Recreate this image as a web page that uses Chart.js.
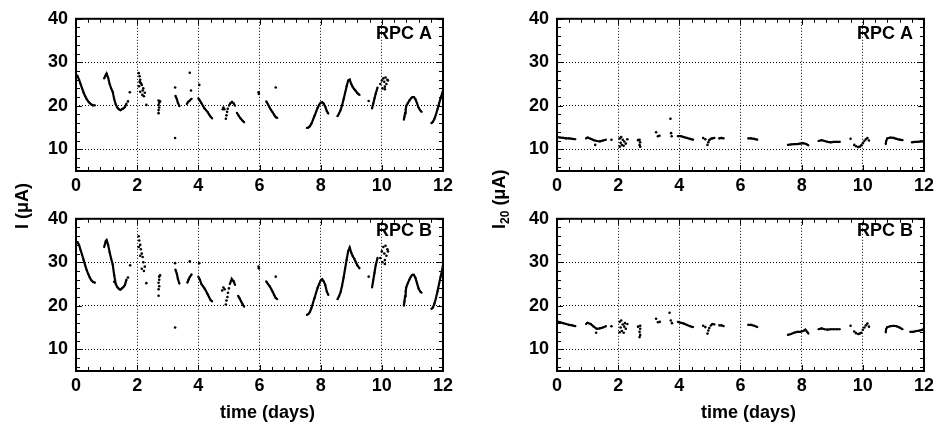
<!DOCTYPE html>
<html>
<head>
<meta charset="utf-8">
<script src="https://cdn.jsdelivr.net/npm/chart.js@4.4.0/dist/chart.umd.min.js"></script>
<style>
  body { margin: 0; background: #fff; }
  #wrap { position: relative; width: 938px; height: 428px; overflow: hidden; }
  canvas { position: absolute; }
  .ytitle {
    position: absolute; font: bold 18px "Liberation Sans", Arial, sans-serif; line-height: 18px;
    transform-origin: left top; transform: rotate(-90deg); white-space: nowrap; color: #000;
  }
  .ytitle sub { font-size: 12px; vertical-align: -4px; }
</style>
</head>
<body>
<div id="wrap">
  <canvas id="tl" width="469" height="200" style="left:0;top:0"></canvas>
  <canvas id="bl" width="469" height="228" style="left:0;top:200px"></canvas>
  <canvas id="tr" width="469" height="200" style="left:469px;top:0"></canvas>
  <canvas id="br" width="469" height="228" style="left:469px;top:200px"></canvas>
  <div class="ytitle" style="left:13px;top:229px">I (μA)</div>
  <div class="ytitle" style="left:490px;top:229px">I<sub>20</sub> (μA)</div>
</div>
<script>
const xTicks = [0, 2, 4, 6, 8, 10, 12];
const yTicks = [10, 20, 30, 40];

// RPC A, current I
const iA_lines = [
  [[0,27.2],[0.05,26.8],[0.1,26],[0.15,25],[0.2,24],[0.25,23],[0.3,22.2],[0.35,21.5],[0.4,21],[0.45,20.6],[0.5,20.3],[0.55,20.1],[0.62,20.1]],
  [[0.92,26.3],[0.97,27],[1.0,27.4],[1.05,26.5],[1.1,25],[1.15,24],[1.2,23.2],[1.25,21.5],[1.3,20.3],[1.35,19.6],[1.4,19.2],[1.45,19],[1.5,19.2],[1.55,19.4],[1.6,19.7],[1.65,20.5]],
  [[3.25,22.3],[3.3,21.5],[3.33,20.7],[3.38,19.9]],
  [[3.62,20.4],[3.67,20.9],[3.72,21.2],[3.78,21.6]],
  [[4.0,21.7],[4.05,21.2],[4.1,20.6],[4.15,20],[4.2,19.4],[4.25,19],[4.3,18.6],[4.35,18],[4.4,17.5],[4.45,17.1]],
  [[5.0,20],[5.05,20.6],[5.1,20.9],[5.15,20.6],[5.2,20]],
  [[5.26,18.4],[5.32,17.7],[5.38,17.1],[5.44,16.6],[5.5,16.2]],
  [[6.22,21],[6.28,20.3],[6.33,19.6],[6.38,19],[6.43,18.5],[6.48,17.9],[6.53,17.4],[6.58,17.2]],
  [[7.55,14.9],[7.6,15],[7.65,15.3],[7.7,15.9],[7.75,16.8],[7.8,17.7],[7.85,18.6],[7.9,19.5],[7.95,20.2],[8.0,20.7],[8.05,20.8],[8.1,20.5],[8.15,19.8],[8.2,18.8],[8.25,18.2]],
  [[8.55,17.6],[8.6,18.2],[8.65,19],[8.7,20.1],[8.75,21.5],[8.8,23],[8.85,24.5],[8.9,25.8],[8.95,26],[9.0,25],[9.05,24.3],[9.1,23.8],[9.15,23.4],[9.2,22.9],[9.27,22.5]],
  [[9.68,19.4],[9.72,20.5],[9.76,21.7],[9.8,22.8],[9.86,24.2]],
  [[10.72,16.8],[10.74,17.5],[10.76,18.3],[10.78,19.2],[10.8,20],[10.85,20.6],[10.9,21.2],[10.95,21.7],[11.0,22],[11.05,22],[11.1,21.5],[11.15,20.6],[11.2,19.6],[11.25,19],[11.3,18.6]],
  [[11.62,16],[11.67,16.3],[11.72,17],[11.77,18],[11.82,19.2],[11.87,20.5],[11.92,21.7],[11.97,22.8],[12,23.5]]
];
const iA_dots = [[1.7,21],[1.76,23.1],[2.05,27.5],[2.08,26.8],[2.1,26],[2.12,25.2],[2.06,24.5],[2.15,24.8],[2.18,23.5],[2.2,24],
  [2.1,23.2],[2.22,22.2],[2.17,22.5],[2.25,23],[2.08,25.5],[2.3,20.2],[2.7,21.2],[2.72,20.7],[2.7,20.2],[2.72,19.6],[2.7,19],
  [2.7,18.3],[2.75,21],[3.24,12.6],[3.24,24.2],[3.72,27.6],[3.76,23.5],[4.03,24.8],[4.8,19.2],[4.82,19.6],[4.85,19.2],[4.9,17],
  [4.92,17.8],[4.94,18.6],[4.96,19.3],[5.97,23.1],[5.98,22.7],[6.53,24.2],[9.57,21.1],[9.95,25],[10.0,25.8],[10.05,26.3],
  [10.08,25.5],[10.1,24.4],[10.12,26.5],[10.15,25],[10.18,26],[10.02,24],[10.1,23.8],[10.2,25.8]];

// RPC B, current I
const iB_lines = [
  [[0,34.7],[0.05,34.6],[0.1,34],[0.15,32.8],[0.2,31.7],[0.25,30.5],[0.3,29.3],[0.35,28.2],[0.4,27.3],[0.45,26.5],[0.5,25.9],[0.55,25.5],[0.62,25.3]],
  [[0.92,33.5],[0.97,34.8],[1.0,35.1],[1.05,34],[1.1,32.3],[1.15,30.8],[1.2,29.5],[1.25,27],[1.3,25],[1.35,24.3],[1.4,23.9],[1.45,23.7],[1.5,24],[1.55,24.3],[1.6,24.8],[1.65,26]],
  [[3.25,28.3],[3.3,27.3],[3.33,26.2],[3.38,25.1]],
  [[3.64,25.3],[3.68,26],[3.72,26.6],[3.78,27.2]],
  [[4.0,26.7],[4.05,26],[4.1,25],[4.15,24.5],[4.2,24],[4.25,23.4],[4.3,22.7],[4.35,22],[4.4,21.3],[4.45,21]],
  [[5.03,25],[5.07,25.8],[5.1,26.1],[5.15,25.7],[5.2,24.8]],
  [[5.3,22.3],[5.35,21.7],[5.4,21],[5.45,20.3],[5.5,19.8]],
  [[6.22,25.6],[6.28,25],[6.33,24.5],[6.38,23.9],[6.43,23.2],[6.48,22.5],[6.53,21.8],[6.58,21.5]],
  [[7.55,17.9],[7.6,18.1],[7.65,18.6],[7.7,19.5],[7.75,20.7],[7.8,21.8],[7.85,23],[7.9,24.1],[7.95,25],[8.0,25.8],[8.05,26.1],[8.1,25.6],[8.15,24.8],[8.2,23.3],[8.25,22.5]],
  [[8.55,21.5],[8.6,22.2],[8.65,23.1],[8.7,24.6],[8.75,26.5],[8.8,28.6],[8.85,30.6],[8.9,32.6],[8.95,33.4],[9.0,32.2],[9.05,31.4],[9.1,30.8],[9.15,30],[9.2,29.3],[9.27,28.6]],
  [[9.68,24.2],[9.72,25.9],[9.76,27.6],[9.8,29.3],[9.86,31]],
  [[10.72,20],[10.74,21],[10.76,22.2],[10.78,23.3],[10.8,24.3],[10.85,25.2],[10.9,26],[10.95,26.7],[11.0,27.1],[11.05,27.1],[11.1,26.4],[11.15,25.2],[11.2,24],[11.25,23.3],[11.3,23]],
  [[11.62,19.3],[11.67,19.6],[11.72,20.5],[11.77,21.8],[11.82,23.3],[11.87,25],[11.92,26.6],[11.97,28.2],[12,29.3]]
];
const iB_dots = [[1.25,25.5],[1.7,26.5],[1.77,29.3],[2.05,36],[2.07,35],[2.1,34],[2.05,33.5],[2.12,33],[2.15,32],[2.1,31.5],
  [2.18,31.2],[2.2,30],[2.15,28.5],[2.22,28],[2.25,29],[2.3,25.2],[2.72,26.7],[2.72,26],[2.7,25.3],[2.72,24.5],[2.7,23.8],
  [2.7,22.3],[2.75,27],[3.24,15],[3.24,29.8],[3.72,30.2],[4.03,29.8],[4.78,23.5],[4.82,24.2],[4.86,23.8],[4.9,20.3],[4.92,21.2],
  [4.95,22],[4.97,23],[5.0,24],[5.97,29],[5.98,28.6],[6.53,26.7],[9.57,26.7],[9.95,31],[10.0,32.5],[10.05,33.5],[10.08,32],
  [10.1,30.5],[10.12,33.8],[10.15,31.5],[10.18,33],[10.02,30],[10.1,29.6],[10.2,32.5]];

// RPC A, I20
const i20A_lines = [
  [[0,12.8],[0.1,12.7],[0.2,12.6],[0.3,12.5],[0.4,12.5],[0.5,12.4],[0.6,12.3]],
  [[0.95,12.5],[1.0,12.7],[1.1,12.4],[1.2,12.1],[1.3,11.9],[1.4,11.8],[1.5,12],[1.6,12.2]],
  [[3.95,13],[4.05,13],[4.15,12.8],[4.25,12.6],[4.35,12.4],[4.45,12.2]],
  [[5.02,12.4],[5.08,12.5],[5.15,12.6]],
  [[5.3,12.5],[5.38,12.6],[5.45,12.5]],
  [[6.25,12.5],[6.35,12.5],[6.45,12.4],[6.55,12.2]],
  [[7.55,11],[7.65,11.1],[7.75,11.2],[7.85,11.2],[7.95,11.3],[8.05,11.4],[8.15,11.2],[8.22,10.9]],
  [[8.55,11.9],[8.65,12.1],[8.75,11.9],[8.85,11.7],[8.95,11.6],[9.05,11.7],[9.15,11.7],[9.25,11.7]],
  [[10.75,11.2],[10.76,11.8],[10.8,12.5],[10.9,12.7],[11.0,12.6],[11.1,12.4],[11.2,12.2],[11.3,12.1]],
  [[11.6,11.6],[11.7,11.7],[11.8,11.7],[11.9,11.8],[12,11.8]]
];
const i20A_dots = [[1.25,11],[1.78,12.2],[2.05,12.5],[2.08,11.5],[2.1,12.8],[2.12,11],[2.15,12.2],[2.18,10.8],[2.2,11.8],
  [2.05,10.6],[2.25,11.3],[2.3,12.3],[2.65,12.1],[2.7,12.2],[2.72,11.6],[2.7,11],[2.72,10.6],[3.24,13.9],[3.3,13],[3.35,13.1],
  [3.71,17],[3.73,13.7],[3.75,13],[4.78,12.6],[4.85,12.3],[4.92,11],[4.95,11.6],[4.98,12.1],[9.6,12.4],[9.72,11],[9.78,10.7],
  [9.85,10.5],[9.9,10.6],[9.95,10.9],[10.0,11.4],[10.05,11.9],[10.1,12.3],[10.15,12.6],[10.2,12]];

// RPC B, I20
const i20B_lines = [
  [[0,16.4],[0.1,16.2],[0.2,16],[0.3,15.8],[0.4,15.6],[0.5,15.5],[0.6,15.3]],
  [[0.95,15.8],[1.0,16.1],[1.1,15.8],[1.2,15.2],[1.3,14.7],[1.4,14.8],[1.5,15],[1.6,15.3]],
  [[3.95,16.3],[4.05,16.1],[4.15,15.9],[4.25,15.6],[4.35,15.3],[4.45,15.1]],
  [[5.02,15.4],[5.08,15.8],[5.15,15.7]],
  [[5.3,15.5],[5.38,15.5],[5.45,15.3]],
  [[6.25,15.6],[6.35,15.6],[6.45,15.4],[6.55,15.1]],
  [[7.55,13.3],[7.65,13.5],[7.75,13.8],[7.85,14],[7.95,14],[8.05,14.2],[8.12,14.5],[8.18,14],[8.22,13.6]],
  [[8.55,14.6],[8.65,14.8],[8.75,14.6],[8.85,14.5],[8.95,14.6],[9.05,14.6],[9.15,14.6],[9.25,14.6]],
  [[10.75,13.9],[10.76,14.6],[10.8,15.1],[10.9,15.3],[11.0,15.4],[11.1,15.3],[11.2,15],[11.3,14.6]],
  [[11.55,14],[11.65,14],[11.75,14.2],[11.85,14.3],[11.95,14.5],[12,14.6]]
];
const i20B_dots = [[1.28,13.8],[1.78,15.3],[2.05,16.3],[2.08,15],[2.1,16.6],[2.12,14.2],[2.15,15.7],[2.18,13.8],[2.2,15.2],
  [2.05,13.9],[2.25,14.7],[2.3,15.8],[2.22,16],[2.65,15.2],[2.72,15.4],[2.72,14.7],[2.7,14],[2.72,13.3],[2.7,12.8],[3.24,17],
  [3.3,16.2],[3.36,16.3],[3.68,18.4],[3.72,16.6],[3.76,16],[4.78,15.4],[4.85,15.1],[4.92,13.6],[4.95,14.3],[4.98,14.9],
  [9.6,15.4],[9.72,14.1],[9.78,13.7],[9.85,13.5],[9.9,13.6],[9.95,13.8],[10.0,14.5],[10.05,15],[10.1,15.5],[10.15,15.9],[10.2,15.2]];

function toLineData(segs) {
  let out = [];
  segs.forEach((seg, i) => {
    if (i > 0) out.push({ x: seg[0][0] - 0.01, y: null });
    seg.forEach((p) => out.push({ x: p[0], y: p[1] }));
  });
  return out;
}

function toDots(list) {
  return list.map((p) => ({ x: p[0], y: p[1] }));
}

// frame, inner ticks, panel label and x title
const framePlugin = {
  id: "frame",
  afterDatasetsDraw(chart, args, opts) {
    const { ctx, chartArea: a, scales } = chart;
    const x = scales.x, y = scales.y;
    ctx.save();
    ctx.strokeStyle = "#000";
    ctx.lineWidth = 1;
    ctx.beginPath();
    for (let i = 0; i <= 30; i++) {
      const px = Math.round(x.getPixelForValue(i * 0.4)) + 0.5;
      const len = i % 5 === 0 ? 6 : 4;
      ctx.moveTo(px, a.bottom); ctx.lineTo(px, a.bottom - len);
      ctx.moveTo(px, a.top); ctx.lineTo(px, a.top + len);
    }
    for (let v = 6; v <= 40; v += 2) {
      const py = Math.round(y.getPixelForValue(v)) + 0.5;
      const len = v % 10 === 0 ? 6 : 4;
      ctx.moveTo(a.left, py); ctx.lineTo(a.left + len, py);
      ctx.moveTo(a.right, py); ctx.lineTo(a.right - len, py);
    }
    ctx.stroke();
    ctx.lineWidth = 2;
    ctx.strokeRect(a.left, a.top, a.right - a.left, a.bottom - a.top);
    ctx.fillStyle = "#000";
    ctx.font = 'bold 18px "Liberation Sans", Arial, sans-serif';
    ctx.textAlign = "right";
    ctx.textBaseline = "alphabetic";
    ctx.fillText(opts.label, a.right - 11, a.top + opts.labelDy);
    if (opts.xTitle) {
      ctx.textAlign = "center";
      ctx.fillText(opts.xTitle, (a.left + a.right) / 2 + 8, a.bottom + 47);
    }
    ctx.restore();
  },
};

function makePanel(id, lines, dots, label, p) {
  const font = { family: '"Liberation Sans", Arial, sans-serif', size: 18, weight: "bold" };
  return new Chart(document.getElementById(id), {
    type: "scatter",
    data: {
      datasets: [
        {
          data: toLineData(lines),
          showLine: true,
          spanGaps: false,
          borderColor: "#000",
          backgroundColor: "#000",
          borderWidth: 2.2,
          pointRadius: 1.1,
          pointBorderWidth: 0,
        },
        {
          data: toDots(dots),
          showLine: false,
          backgroundColor: "#000",
          borderColor: "#000",
          pointRadius: 1.3,
          pointBorderWidth: 0,
        },
      ],
    },
    options: {
      responsive: false,
      animation: false,
      events: [],
      layout: { padding: { left: 0, top: p.top, right: p.right, bottom: 0 } },
      plugins: {
        legend: { display: false },
        tooltip: { enabled: false },
        frame: { label: label, labelDy: p.labelDy, xTitle: p.xTitle },
      },
      scales: {
        x: {
          type: "linear",
          min: 0,
          max: 12,
          afterBuildTicks: (s) => { s.ticks = xTicks.map((v) => ({ value: v })); },
          afterFit: (s) => { s.height = p.xh; },
          ticks: { color: "#000", font: font, padding: 4, maxRotation: 0 },
          grid: { color: "#000", lineWidth: 1, drawTicks: false },
          border: { display: false, dash: [1, 2] },
        },
        y: {
          type: "linear",
          min: 5,
          max: 40,
          afterBuildTicks: (s) => { s.ticks = yTicks.map((v) => ({ value: v })); },
          afterFit: (s) => { s.width = p.yw; },
          ticks: { color: "#000", font: font, padding: 8 },
          grid: { color: "#000", lineWidth: 1, drawTicks: false },
          border: { display: false, dash: [1, 2] },
        },
      },
    },
    plugins: [framePlugin],
  });
}

makePanel("tl", iA_lines, iA_dots, "RPC A", { top: 15, right: 26, xh: 29, yw: 76, labelDy: 20 });
makePanel("bl", iB_lines, iB_dots, "RPC B", { top: 18, right: 26, xh: 57, yw: 76, labelDy: 17, xTitle: "time (days)" });
makePanel("tr", i20A_lines, i20A_dots, "RPC A", { top: 15, right: 14, xh: 29, yw: 88, labelDy: 20 });
makePanel("br", i20B_lines, i20B_dots, "RPC B", { top: 18, right: 14, xh: 57, yw: 88, labelDy: 17, xTitle: "time (days)" });
</script>
</body>
</html>
